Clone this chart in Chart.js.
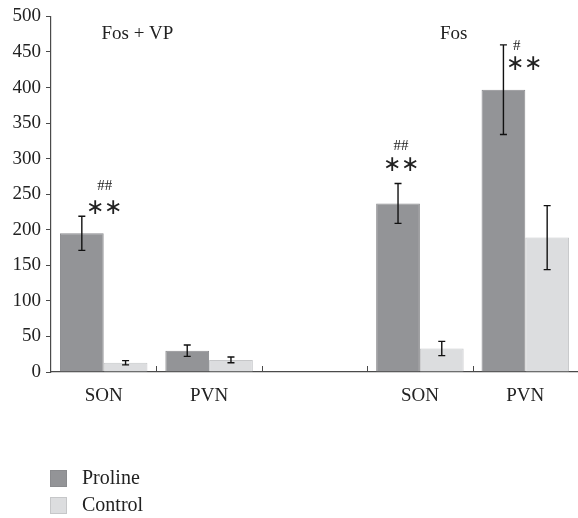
<!DOCTYPE html>
<html>
<head>
<meta charset="utf-8">
<script src="https://cdn.jsdelivr.net/npm/chart.js@4.4.0/dist/chart.umd.min.js"></script>
<style>
  html, body { margin: 0; padding: 0; background: #fff; }
  #wrap { width: 578px; height: 518px; position: relative; }
</style>
</head>
<body>
<div id="wrap"><canvas id="barChart"></canvas></div>
<script>
// Chart data
const categories = ['SON', 'PVN', '', 'SON', 'PVN'];
const prolineValues = [195, 30, null, 237, 397];
const prolineErrors = [24, 8, null, 28, 63];
const controlValues = [13, 17, null, 33, 189];
const controlErrors = [3, 4, null, 10, 45];
const seriesNames = ['Proline', 'Control'];
const yMax = 500;
const yStep = 50;

// Group titles and significance marks
const groupTitles = ['Fos + VP', 'Fos'];
const groupTitleCats = [0, 3];
const markText = ['##', '\u2217\u2217', '##', '\u2217\u2217', '#', '\u2217\u2217'];
const markCats = [0, 0, 3, 3, 4, 4];
const markValues = [262, 230, 318, 291, 458, 433];

const serif = "'Liberation Serif', 'Times New Roman', serif";
const axisColor = '#4a4a4a';

// Error bars, titles, marks, x tick marks and the legend
const extras = {
  id: 'extras',
  afterDatasetsDraw(chart) {
    const ctx = chart.ctx;
    const x = chart.scales.x;
    const y = chart.scales.y;
    const catW = x.getPixelForValue(1) - x.getPixelForValue(0);
    const errs = [prolineErrors, controlErrors];
    const vals = [prolineValues, controlValues];

    ctx.save();
    ctx.strokeStyle = '#111';
    ctx.lineWidth = 1.4;
    for (let d = 0; d < 2; d++) {
      const meta = chart.getDatasetMeta(d);
      vals[d].forEach((v, i) => {
        if (v === null) return;
        const bx = meta.data[i].x;
        const top = y.getPixelForValue(v + errs[d][i]);
        const bot = y.getPixelForValue(v - errs[d][i]);
        ctx.beginPath();
        ctx.moveTo(bx, top); ctx.lineTo(bx, bot);
        ctx.moveTo(bx - 3.5, top); ctx.lineTo(bx + 3.5, top);
        ctx.moveTo(bx - 3.5, bot); ctx.lineTo(bx + 3.5, bot);
        ctx.stroke();
      });
    }

    // inward tick marks between categories
    ctx.strokeStyle = axisColor;
    ctx.lineWidth = 1;
    for (let i = 0; i < categories.length - 1; i++) {
      const bx = Math.round((x.getPixelForValue(i) + x.getPixelForValue(i + 1)) / 2) + 0.5;
      ctx.beginPath();
      ctx.moveTo(bx, y.bottom);
      ctx.lineTo(bx, y.bottom - 6);
      ctx.stroke();
    }

    ctx.fillStyle = '#222';
    ctx.textAlign = 'center';
    ctx.textBaseline = 'middle';
    ctx.font = '19px ' + serif;
    groupTitles.forEach((t, i) => {
      ctx.fillText(t, x.getPixelForValue(groupTitleCats[i]) + catW * 0.32, y.getPixelForValue(475));
    });

    const shifts = [0.01, 0.0, -0.18, -0.18, -0.08, -0.015];
    markText.forEach((t, i) => {
      ctx.font = (t.indexOf('#') >= 0 ? '15px ' : '22px ') + serif;
      const px = x.getPixelForValue(markCats[i]) + catW * shifts[i];
      ctx.fillText(t, px, y.getPixelForValue(markValues[i]));
    });

    // legend
    ctx.textAlign = 'left';
    ctx.font = '20px ' + serif;
    chart.data.datasets.forEach((ds, i) => {
      const ly = 470 + i * 27;
      ctx.fillStyle = ds.backgroundColor;
      ctx.fillRect(50, ly, 17, 17);
      ctx.strokeStyle = ds.borderColor;
      ctx.strokeRect(50.5, ly + 0.5, 16, 16);
      ctx.fillStyle = '#222';
      ctx.fillText(ds.label, 82, ly + 9);
    });
    ctx.restore();
  }
};

const ctx = document.getElementById('barChart').getContext('2d');
const barChart = new Chart(ctx, {
  type: 'bar',
  data: {
    labels: categories,
    datasets: [{
      label: seriesNames[0],
      data: prolineValues,
      backgroundColor: '#939497',
      borderColor: '#8a8b8e',
      borderWidth: 1,
      categoryPercentage: 0.83,
      barPercentage: 1.0
    }, {
      label: seriesNames[1],
      data: controlValues,
      backgroundColor: '#dcdddf',
      borderColor: '#c6c7c9',
      borderWidth: 1,
      categoryPercentage: 0.83,
      barPercentage: 1.0
    }]
  },
  options: {
    responsive: true,
    maintainAspectRatio: false,
    animation: false,
    layout: { padding: { top: 15, left: 0, right: 0, bottom: 0 } },
    plugins: {
      legend: { display: false },
      tooltip: { enabled: false }
    },
    scales: {
      x: {
        grid: { display: false },
        border: { display: true, color: axisColor, width: 1.2 },
        ticks: { color: '#222', font: { family: serif, size: 19 }, padding: 5, maxRotation: 0 },
        afterFit(scale) { scale.height = 146; }
      },
      y: {
        min: 0,
        max: yMax,
        ticks: { stepSize: yStep, color: '#222', font: { family: serif, size: 19 }, padding: 5 },
        grid: { drawOnChartArea: false, drawTicks: true, tickLength: 5, color: axisColor },
        border: { display: true, color: axisColor, width: 1.2 },
        afterFit(scale) { scale.width = 51; }
      }
    }
  },
  plugins: [extras]
});
</script>
</body>
</html>
